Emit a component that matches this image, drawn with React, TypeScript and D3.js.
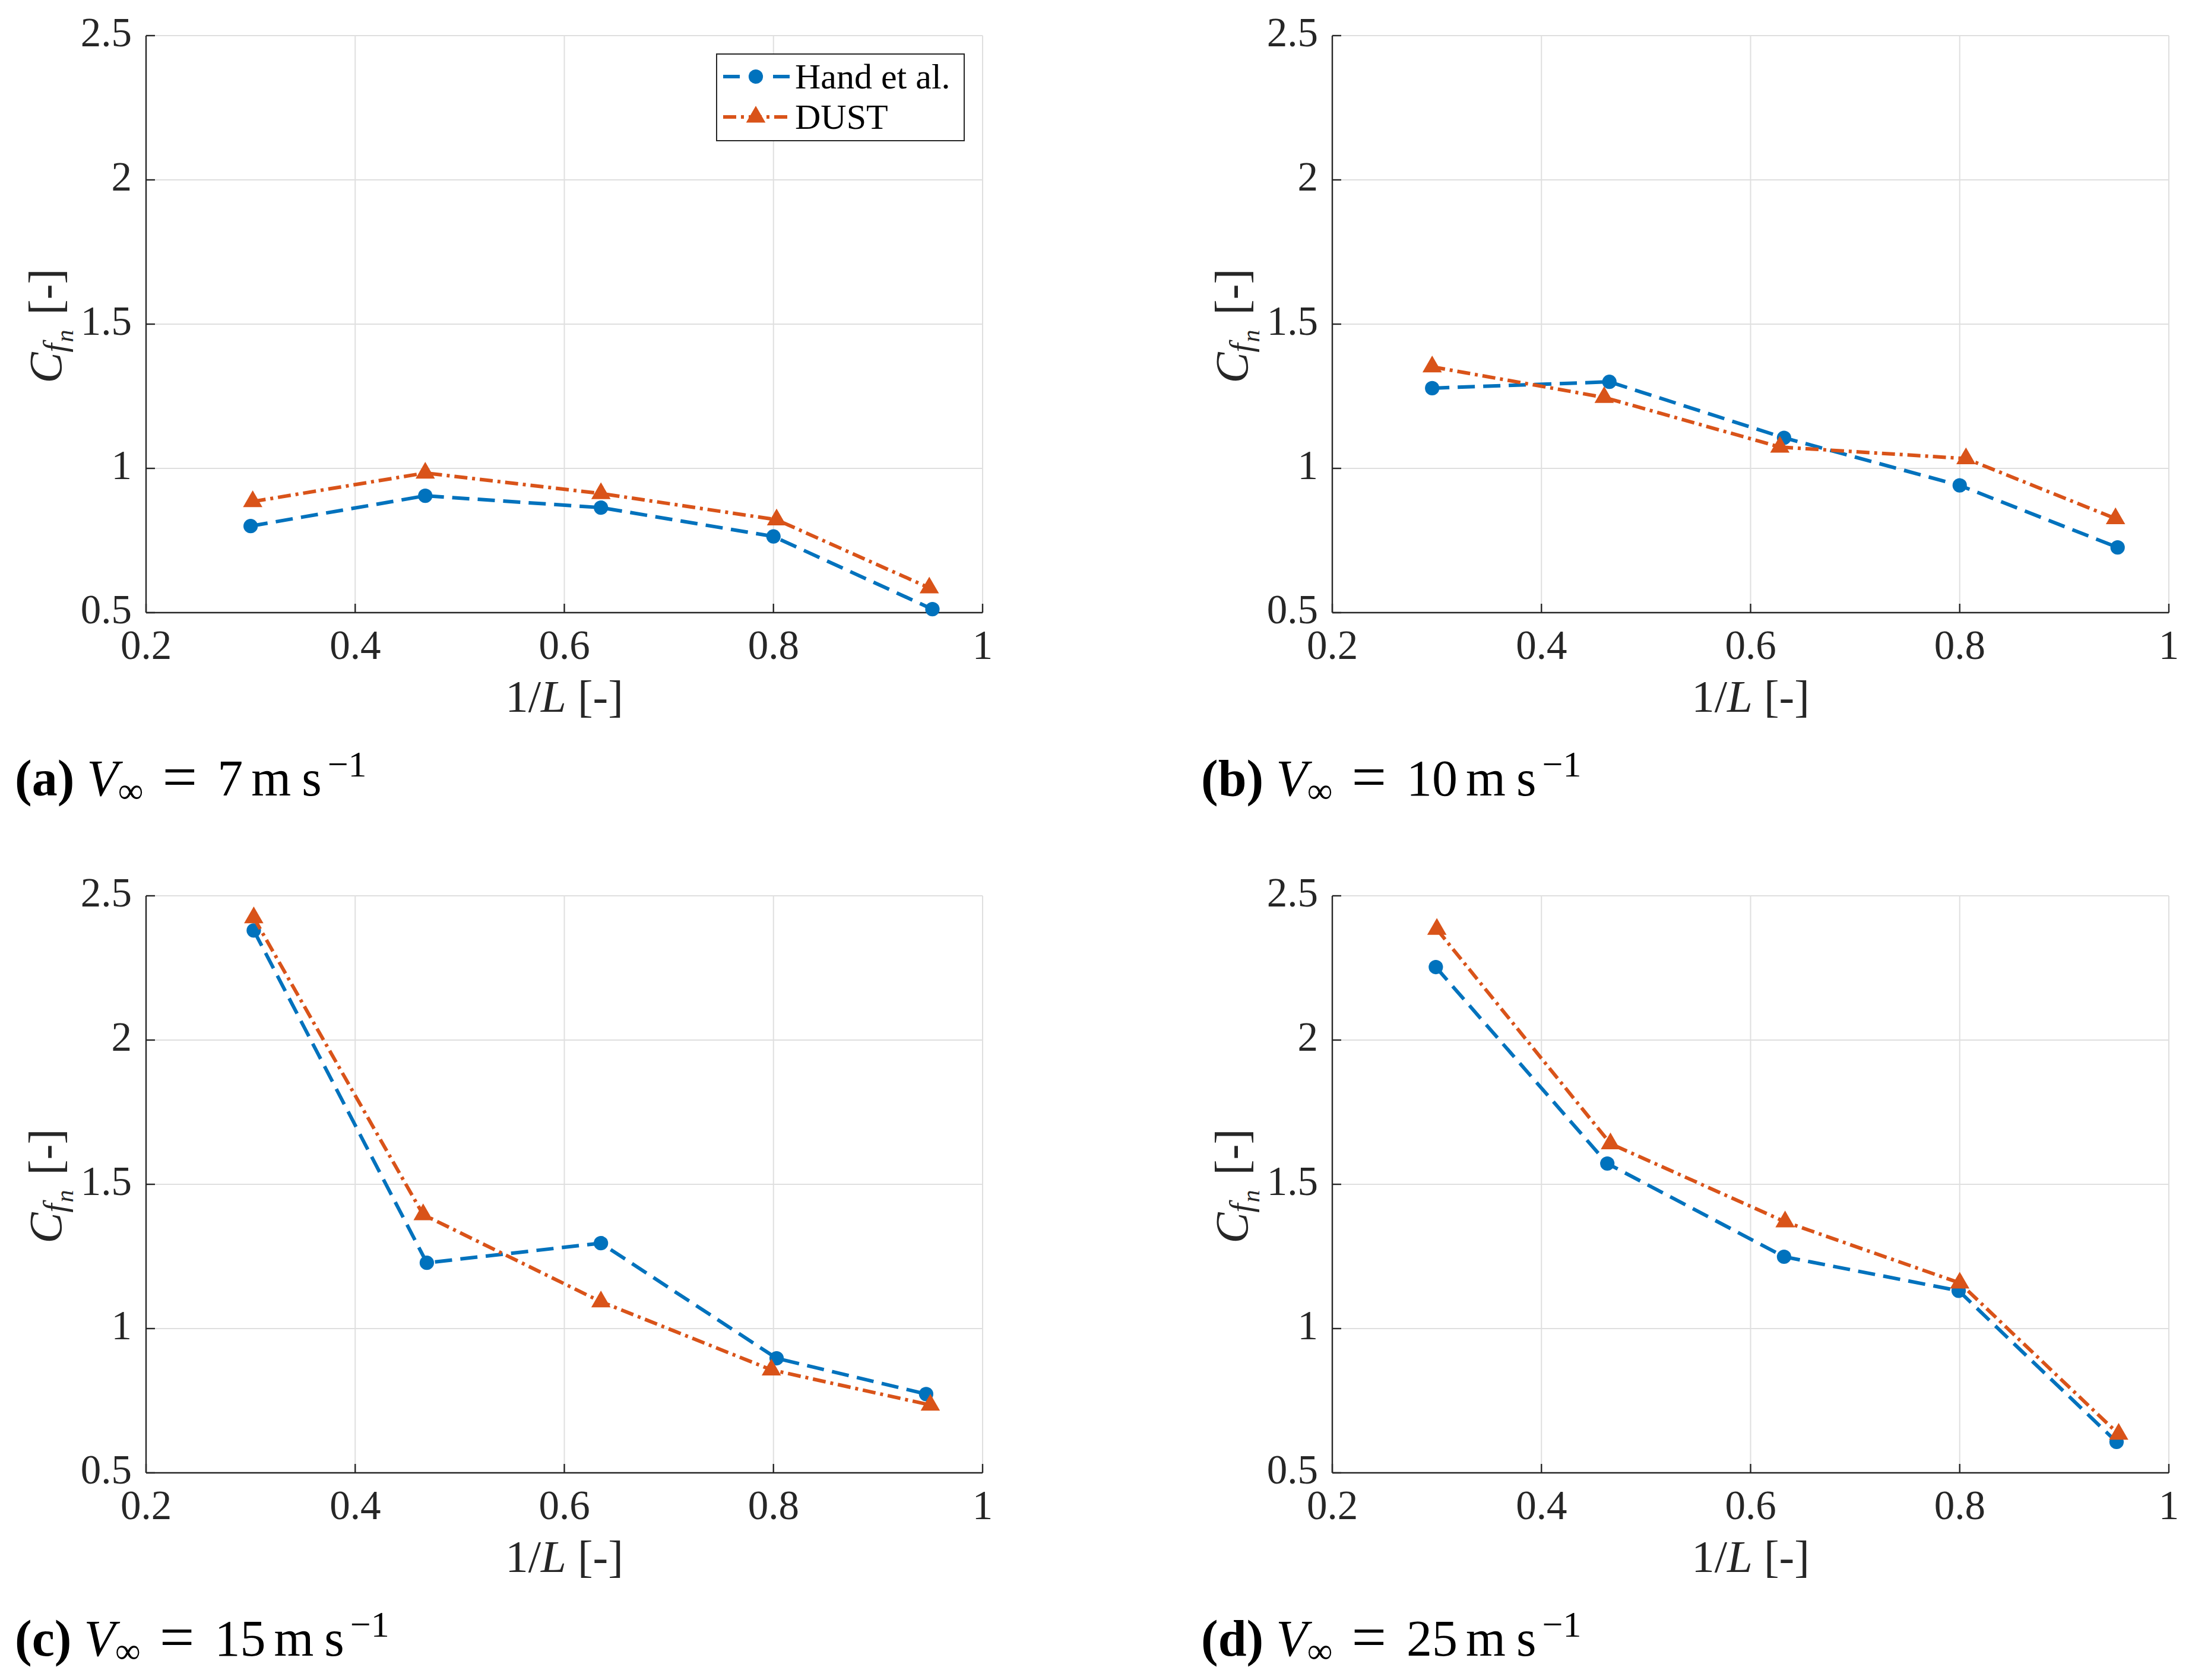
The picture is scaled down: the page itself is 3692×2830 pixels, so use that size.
import * as d3 from 'd3'

// x positions (1/L) and Cfn values
const xHandA = [0.3, 0.467, 0.635, 0.8, 0.952]
const yHandA = [0.8, 0.905, 0.864, 0.764, 0.512]
const xDustA = [0.302, 0.467, 0.635, 0.803, 0.949]
const yDustA = [0.885, 0.984, 0.913, 0.822, 0.586]

const xHandB = [0.2955, 0.465, 0.632, 0.8, 0.951]
const yHandB = [1.278, 1.3, 1.106, 0.941, 0.726]
const xDustB = [0.2955, 0.46, 0.628, 0.806, 0.949]
const yDustB = [1.352, 1.246, 1.074, 1.034, 0.826]

const xHandC = [0.303, 0.4685, 0.635, 0.803, 0.946]
const yHandC = [2.38, 1.228, 1.296, 0.897, 0.773]
const xDustC = [0.303, 0.465, 0.635, 0.798, 0.95]
const yDustC = [2.424, 1.395, 1.093, 0.857, 0.735]

const xHandD = [0.299, 0.463, 0.632, 0.799, 0.95]
const yHandD = [2.253, 1.572, 1.249, 1.131, 0.607]
const xDustD = [0.3, 0.466, 0.633, 0.8, 0.952]
const yDustD = [2.384, 1.641, 1.37, 1.158, 0.634]

const panelIds = ['a', 'b', 'c', 'd']
const speeds = ['7', '10', '15', '25']
const seriesNames = ['Hand et al.', 'DUST']

const xTicks = [0.2, 0.4, 0.6, 0.8, 1]
const yTicks = [0.5, 1, 1.5, 2, 2.5]

type Pt = { x: number; y: number }
const zip = (xs: number[], ys: number[]): Pt[] => xs.map((x, i) => ({ x, y: ys[i] }))

const panels = [
  { hand: zip(xHandA, yHandA), dust: zip(xDustA, yDustA) },
  { hand: zip(xHandB, yHandB), dust: zip(xDustB, yDustB) },
  { hand: zip(xHandC, yHandC), dust: zip(xDustC, yDustC) },
  { hand: zip(xHandD, yHandD), dust: zip(xDustD, yDustD) },
]

const W = 3692
const H = 2830
const colX = [0, 1998]
const rowY = [0, 1449]
const box = { left: 246, right: 1655, top: 60, bottom: 1032 }

const BLUE = '#0072BD'
const ORANGE = '#D95319'
const AXIS = '#262626'
const GRID = '#dfdfdf'
const FONT = 'Liberation Serif'
const DASH = '29 14'
const DASHDOT = '22 8 5 8'
const LW = 6

const circlePath = d3.symbol(d3.symbolCircle, 460)()!
const trianglePath = d3.symbol(d3.symbolTriangle, 460)()!

function Panel({ idx }: { idx: number }) {
  const p = panels[idx]
  const ox = colX[idx % 2]
  const oy = rowY[Math.floor(idx / 2)]

  const x = d3.scaleLinear().domain([0.2, 1]).range([box.left, box.right])
  const y = d3.scaleLinear().domain([0.5, 2.5]).range([box.bottom, box.top])
  const line = d3.line<Pt>().x(d => x(d.x)).y(d => y(d.y))
  const midX = (box.left + box.right) / 2
  const midY = (box.top + box.bottom) / 2

  return (
    <g transform={`translate(${ox},${oy})`}>
      {/* grid */}
      {xTicks.map(t => (
        <line key={'gx' + t} x1={x(t)} x2={x(t)} y1={box.top} y2={box.bottom} stroke={GRID} strokeWidth={2} />
      ))}
      {yTicks.map(t => (
        <line key={'gy' + t} x1={box.left} x2={box.right} y1={y(t)} y2={y(t)} stroke={GRID} strokeWidth={2} />
      ))}
      {/* axes */}
      <line x1={box.left} x2={box.right} y1={box.bottom} y2={box.bottom} stroke={AXIS} strokeWidth={2.4} />
      <line x1={box.left} x2={box.left} y1={box.top} y2={box.bottom} stroke={AXIS} strokeWidth={2.4} />
      {xTicks.map(t => (
        <g key={'tx' + t}>
          <line x1={x(t)} x2={x(t)} y1={box.bottom} y2={box.bottom - 15} stroke={AXIS} strokeWidth={2.4} />
          <text x={x(t)} y={box.bottom + 78} textAnchor="middle" fontSize={69} fontFamily={FONT} fill={AXIS}>
            {String(t)}
          </text>
        </g>
      ))}
      {yTicks.map(t => (
        <g key={'ty' + t}>
          <line x1={box.left} x2={box.left + 15} y1={y(t)} y2={y(t)} stroke={AXIS} strokeWidth={2.4} />
          <text x={box.left - 24} y={y(t) + 18} textAnchor="end" fontSize={69} fontFamily={FONT} fill={AXIS}>
            {String(t)}
          </text>
        </g>
      ))}
      {/* axis labels */}
      <text x={midX} y={box.bottom + 167} textAnchor="middle" fontSize={77} fontFamily={FONT} fill={AXIS}>
        <tspan>1/</tspan>
        <tspan fontStyle="italic">L</tspan>
        <tspan dx={19}>[-]</tspan>
      </text>
      <text transform={`translate(103,${midY + 3}) rotate(-90)`} textAnchor="middle" fontSize={78} fontFamily={FONT} fill={AXIS}>
        <tspan fontStyle="italic">C</tspan>
        <tspan fontStyle="italic" fontSize={54} dy={8}>f</tspan>
        <tspan fontStyle="italic" fontSize={42} dy={12} dx={2}>n</tspan>
        <tspan dy={-20} dx={25}>[-]</tspan>
      </text>
      {/* series */}
      <path d={line(p.hand)!} fill="none" stroke={BLUE} strokeWidth={LW} strokeDasharray={DASH} />
      {p.hand.map((d, i) => (
        <path key={'h' + i} d={circlePath} transform={`translate(${x(d.x)},${y(d.y)})`} fill={BLUE} />
      ))}
      <path d={line(p.dust)!} fill="none" stroke={ORANGE} strokeWidth={LW} strokeDasharray={DASHDOT} />
      {p.dust.map((d, i) => (
        <path key={'d' + i} d={trianglePath} transform={`translate(${x(d.x)},${y(d.y)})`} fill={ORANGE} />
      ))}
      {/* caption */}
      <text x={25} y={1340} fontSize={86} fontFamily={FONT} fill="#000">
        <tspan fontWeight="bold">({panelIds[idx]})</tspan>
        <tspan dx={21} fontStyle="italic">V</tspan>
        <tspan fontSize={60} dy={12}>∞</tspan>
        <tspan dy={-8} dx={32} fontSize={104}>=</tspan>
        <tspan dy={-4} dx={34}>{speeds[idx]}</tspan>
        <tspan dx={14}>m</tspan>
        <tspan dx={18}>s</tspan>
        <tspan fontSize={62} dy={-32} dx={10}>−1</tspan>
      </text>
      {idx === 0 && <Legend />}
    </g>
  )
}

function Legend() {
  const rows = [129, 197]
  const x0 = 1218
  const x1 = 1330
  const xm = 1273
  return (
    <g>
      <rect x={1207} y={91} width={417} height={146} fill="#fff" stroke={AXIS} strokeWidth={2} />
      <line x1={x0} x2={x1} y1={rows[0]} y2={rows[0]} stroke={BLUE} strokeWidth={LW} strokeDasharray="28 56 28" />
      <path d={circlePath} transform={`translate(${xm},${rows[0]})`} fill={BLUE} />
      <line x1={x0} x2={x1} y1={rows[1]} y2={rows[1]} stroke={ORANGE} strokeWidth={LW} strokeDasharray={DASHDOT} />
      <path d={trianglePath} transform={`translate(${xm},${rows[1]})`} fill={ORANGE} />
      {seriesNames.map((s, i) => (
        <text key={s} x={1339} y={rows[i] + 20} fontSize={60} fontFamily={FONT} fill="#000">
          {s}
        </text>
      ))}
    </g>
  )
}

export default function App() {
  return (
    <svg
      width={W}
      height={H}
      viewBox={`0 0 ${W} ${H}`}
      style={{ position: 'absolute', left: 0, top: 0, background: '#fff' }}
    >
      <rect width={W} height={H} fill="#fff" />
      {panels.map((_, i) => (
        <Panel key={i} idx={i} />
      ))}
    </svg>
  )
}
